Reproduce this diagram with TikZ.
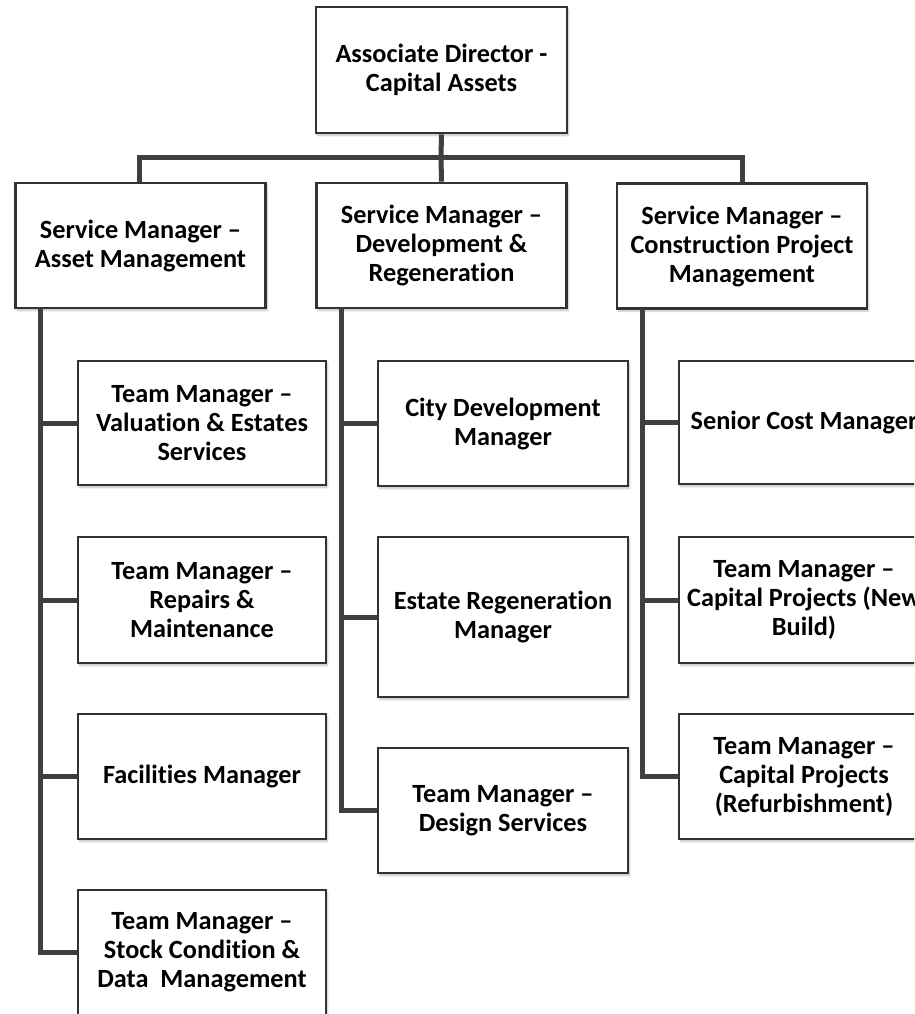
\documentclass[tikz,border=0pt]{standalone}
\usepackage{fontspec}
\setmainfont{Carlito}[Ligatures=CommonOff]
\usetikzlibrary{shadows.blur}
\definecolor{boxline}{HTML}{333333}
\definecolor{connline}{HTML}{3F3F3F}
\tikzset{
  orgbox/.style={draw=boxline, line width=2.6pt, fill=white, align=center, inner sep=0pt,
    minimum width=250pt, minimum height=125pt,
    font=\bfseries\fontsize{26.3}{29}\selectfont,
    blur shadow={shadow xshift=1.5pt, shadow yshift=-2.5pt, shadow opacity=25, shadow blur steps=6}},
  conn/.style={draw=connline, line width=5pt}
}
\begin{document}
\begin{tikzpicture}[x=1pt,y=-1pt]
\useasboundingbox (0,0) rectangle (914,1014);
\clip (0,0) rectangle (914,1014);
% nodes
\node[orgbox, minimum width=251pt, minimum height=126pt] (top) at (441.5,70) {Associate Director -\\Capital Assets};
\node[orgbox] (sm1) at (140.5,245.5) {Service Manager --\\Asset Management};
\node[orgbox] (sm2) at (441.5,245.5) {Service Manager --\\Development \&\\Regeneration};
\node[orgbox] (sm3) at (742,246) {Service Manager --\\Construction Project\\Management};
% left column
\node[orgbox, minimum width=248pt, minimum height=124pt] (c1) at (202,423) {Team Manager --\\Valuation \& Estates\\Services};
\node[orgbox, minimum width=248pt, minimum height=126pt] (c2) at (202,600) {Team Manager --\\Repairs \&\\Maintenance};
\node[orgbox, minimum width=248pt] (c3) at (202,776.5) {Facilities Manager};
\node[orgbox, minimum width=248pt] (c4) at (202,952.5) {Team Manager --\\Stock Condition \&\\Data\ \ Management};
% middle column
\node[orgbox] (m1) at (503,423.5) {City Development\\Manager};
\node[orgbox, minimum height=160pt] (m2) at (503,617) {Estate Regeneration\\Manager};
\node[orgbox] (m3) at (503,810.5) {Team Manager --\\Design Services};
% right column
\node[orgbox, minimum height=123pt] (r1) at (804,422.5) {Senior Cost Manager};
\node[orgbox, minimum height=126pt] (r2) at (804,600) {Team Manager --\\Capital Projects (New\\Build)};
\node[orgbox] (r3) at (804,776.5) {Team Manager --\\Capital Projects\\(Refurbishment)};
% connectors
\coordinate (bus) at (441,157);
\draw[conn] (top.south) -- (bus);
\draw[conn] (sm1.north -| 139,0) |- (bus) -| (sm3.north);
\draw[conn] (bus) -- (sm2.north);
% trunks
\coordinate (t1) at (40,308);
\coordinate (t2) at (341,308);
\coordinate (t3) at (642,309);
\draw[conn] (t1) |- (c4.west);
\draw[conn] (t1 |- c1.west) -- (c1.west);
\draw[conn] (t1 |- c2.west) -- (c2.west);
\draw[conn] (t1 |- c3.west) -- (c3.west);
\draw[conn] (t2) |- (m3.west);
\draw[conn] (t2 |- m1.west) -- (m1.west);
\draw[conn] (t2 |- m2.west) -- (m2.west);
\draw[conn] (t3) |- (r3.west);
\draw[conn] (t3 |- r1.west) -- (r1.west);
\draw[conn] (t3 |- r2.west) -- (r2.west);
\end{tikzpicture}
\end{document}
